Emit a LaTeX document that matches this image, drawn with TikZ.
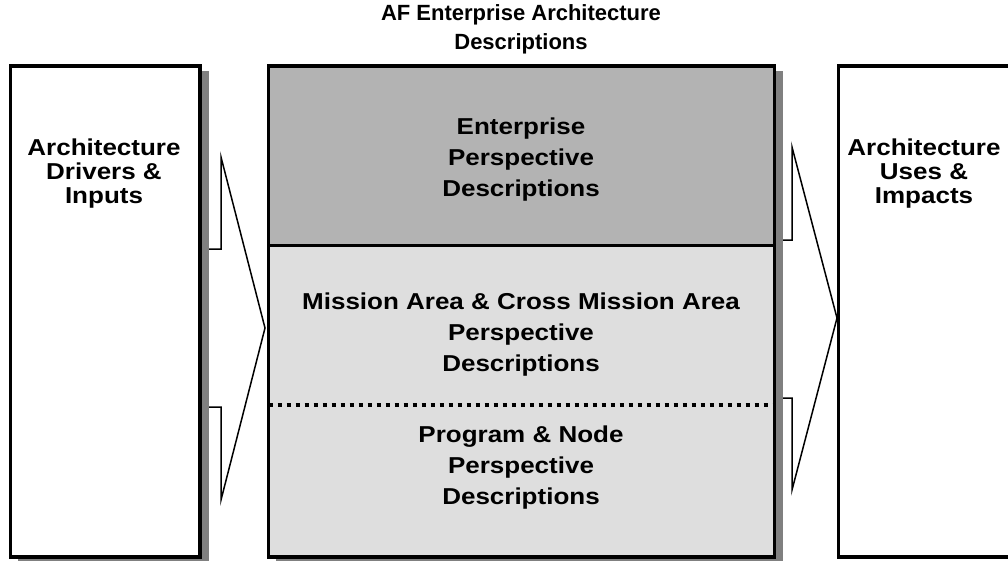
\documentclass[tikz,border=0pt]{standalone}
\usepackage{fontspec}
\setmainfont{Liberation Sans}
\newfontfamily\boxfont[FakeStretch=1.13]{Liberation Sans}
\definecolor{shadowgray}{RGB}{128,128,128}
\definecolor{topgray}{RGB}{179,179,179}
\definecolor{lowgray}{RGB}{222,222,222}
\begin{document}
\begin{tikzpicture}[x=1pt,y=-1pt,
	frame/.style={draw=black,line width=3.5pt},
	shade/.style={fill=shadowgray},
	bigarrow/.style={draw=black,fill=white,line width=1.5pt,line join=miter},
	lbl/.style={align=center,font=\boxfont\bfseries\fontsize{23}{24}\selectfont},
	desc/.style={align=center,font=\boxfont\bfseries\fontsize{23}{31}\selectfont}]

			\useasboundingbox (0,0) rectangle (1008,560);

			% box corners
			\coordinate (L1) at (10.5,66);
			\coordinate (L2) at (200,557);
			\coordinate (C1) at (268.5,66);
			\coordinate (C2) at (774.5,557);
			\coordinate (R1) at (838.5,66);
			\coordinate (R2) at (1030,557);
			\coordinate (M1) at (268.5,245);
			\coordinate (M2) at (774.5,245);
			\coordinate (D1) at (268.5,404.5);
			\coordinate (D2) at (774.5,404.5);

			% left arrow
			\draw[bigarrow] (190,249) -- (221,249) -- (221,157) -- (265,328)
				-- (221,500) -- (221,407) -- (190,407);
			% right arrow
			\draw[bigarrow] (765,240) -- (792,240) -- (792,147) -- (837,318)
				-- (792,490) -- (792,398) -- (765,398);

			% shadows
			\fill[shade] ([shift={(7,5)}]L1) rectangle ([shift={(8.75,6.75)}]L2);
			\fill[shade] ([shift={(7,5)}]C1) rectangle ([shift={(8.75,6.75)}]C2);

			% boxes
			\draw[frame,fill=white] (L1) rectangle (L2);
			\fill[topgray] (C1) rectangle (M2);
			\fill[lowgray] (M1) rectangle (C2);
			\draw[black,line width=3pt] (M1) -- (M2);
			\draw[black,line width=4pt,dash pattern=on 4.5pt off 4.5pt] (D1) -- (D2);
			\draw[frame] (C1) rectangle (C2);
			\draw[frame,fill=white] (R1) rectangle (R2);

			% labels
			\node[align=center,font=\bfseries\fontsize{22}{29}\selectfont] (title) at (521,29)
				{AF Enterprise Architecture\\Descriptions};
			\node[lbl] (drivers) at (104,174) {Architecture\\Drivers \&\\Inputs};
			\node[lbl] (uses) at (924,174) {Architecture\\Uses \&\\Impacts};
			\node[desc] (enterprise) at (521,160) {Enterprise\\Perspective\\Descriptions};
			\node[desc] (mission) at (521,335) {Mission Area \& Cross Mission Area\\Perspective\\Descriptions};
			\node[desc] (program) at (521,468) {Program \& Node\\Perspective\\Descriptions};
		\end{tikzpicture}
\end{document}
